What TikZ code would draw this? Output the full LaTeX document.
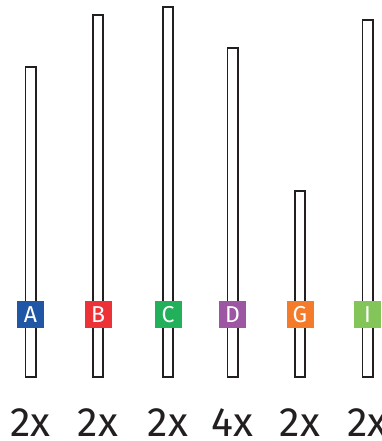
\documentclass[tikz,border=0pt]{standalone}
\usepackage{fontspec}
\setmainfont{Fira Sans}
\usepackage{xcolor}
\usetikzlibrary{positioning}
\definecolor{barline}{RGB}{35, 31, 32}
\definecolor{tagblue}{RGB}{31, 86, 165}
\definecolor{tagred}{RGB}{236, 50, 55}
\definecolor{taggreen}{RGB}{34, 176, 90}
\definecolor{tagpurple}{RGB}{156, 86, 162}
\definecolor{tagorange}{RGB}{244, 123, 42}
\definecolor{taglime}{RGB}{132, 197, 90}

\begin{document}
\begin{tikzpicture}[x=1pt, y=-1pt,
    pillar/.style={draw=barline, fill=white, line width=1.8pt, inner sep=0pt, minimum width=10.2pt},
    lettertag/.style={minimum size=27pt, inner sep=0pt, text=white, font=\fontsize{23}{23}\selectfont},
    countlabel/.style={anchor=base, inner sep=0pt, text=barline, font=\fontsize{41}{41}\selectfont}]
  \useasboundingbox (0,0) rectangle (382,441);

  % Bars
  \foreach \n/\x/\t in {A/30.5/66, B/98/14, C/168/6, D/232.5/47, G/300/190, I/367.5/19}
    \node[pillar, minimum height={376.2-\t}] (bar\n) at (\x, {(378+\t)/2}) {};

  % Letter tags
  \foreach \n/\c in {A/tagblue, B/tagred, C/taggreen, D/tagpurple, G/tagorange, I/taglime}
    \node[lettertag, fill=\c, above=50pt of bar\n.south] (tag\n) {\n};

  % Counts
  \foreach \n/\k in {A/2, B/2, C/2, D/4, G/2, I/2}
    \node[countlabel] (count\n) at (bar\n.south |- 0,436) {\k x};
\end{tikzpicture}
\end{document}
